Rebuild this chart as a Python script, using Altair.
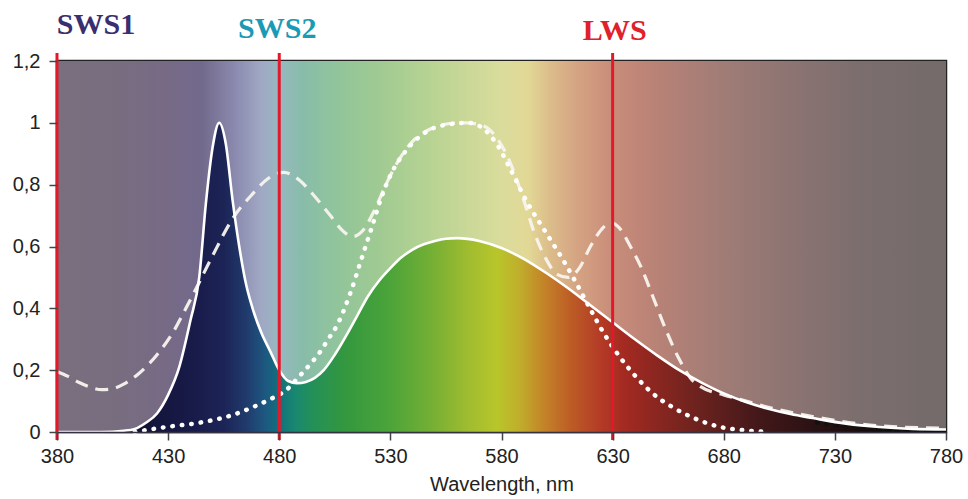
import altair as alt
import pandas as pd

# ---------------- data ----------------
# solid white curve (filled with spectrum colours)
solid_wl = [380, 400, 410, 415, 420, 425, 430, 435, 440, 444, 447, 450, 453, 456, 459, 462, 465,
            468, 472, 476, 480, 484, 488, 492, 496, 500, 505, 510, 515, 520, 525, 530, 535, 540,
            545, 550, 555, 560, 570, 580, 590, 600, 610, 620, 630, 640, 650, 660, 670, 680, 690,
            700, 710, 720, 735, 750, 765, 780]
solid_val = [0.0, 0.0, 0.004, 0.01, 0.03, 0.06, 0.12, 0.21, 0.36, 0.5, 0.74, 0.92, 1.0, 0.93, 0.75,
             0.6, 0.48, 0.4, 0.32, 0.26, 0.2, 0.165, 0.158, 0.162, 0.175, 0.2, 0.25, 0.31, 0.375,
             0.44, 0.49, 0.53, 0.565, 0.59, 0.607, 0.618, 0.625, 0.627, 0.618, 0.595, 0.56, 0.515,
             0.465, 0.41, 0.355, 0.3, 0.248, 0.2, 0.16, 0.125, 0.097, 0.075, 0.058, 0.045, 0.027,
             0.016, 0.01, 0.008]

# dashed white curve
dash_wl = [380, 385, 390, 395, 400, 405, 410, 417, 425, 432, 438, 443, 450, 459, 468, 475, 482,
           489, 495, 503, 508, 513, 518, 523, 528, 533, 540, 548, 556, 564, 572, 578, 584, 590,
           595, 600, 605, 610, 615, 620, 625, 629, 633, 638, 643, 648, 654, 660, 665, 670,
           680, 690, 700, 720, 750, 780]
dash_val = [0.195, 0.18, 0.16, 0.145, 0.137, 0.14, 0.155, 0.19, 0.25, 0.32, 0.4, 0.47, 0.57, 0.69,
            0.77, 0.82, 0.84, 0.815, 0.77, 0.7, 0.655, 0.632, 0.655, 0.72, 0.8, 0.87, 0.94, 0.98,
            0.997, 1.0, 0.99, 0.95, 0.87, 0.75, 0.64, 0.56, 0.51, 0.5, 0.53, 0.6, 0.655, 0.678,
            0.66, 0.6, 0.53, 0.44, 0.33, 0.235, 0.175, 0.145, 0.12, 0.1, 0.08, 0.05, 0.02, 0.012]

# dotted white curve
dot_wl = [415, 419, 430, 444, 459, 468, 477, 483, 489, 494, 498, 502, 506, 512, 517, 522, 526,
          530, 537, 546, 556, 565, 572, 578, 584, 591, 600, 607, 613, 619, 626, 633,
          641, 648, 657, 665, 678, 690, 700]
dot_val = [0.0, 0.005, 0.017, 0.03, 0.055, 0.08, 0.11, 0.135, 0.18, 0.22, 0.255, 0.3, 0.345, 0.45,
           0.56, 0.67, 0.76, 0.83, 0.91, 0.97, 0.995, 1.0, 0.98, 0.93, 0.85, 0.75, 0.645,
           0.565, 0.49, 0.41, 0.32, 0.245, 0.175, 0.125, 0.08, 0.05, 0.017, 0.005, 0.0]

# black dotted tail near the baseline
blk_wl = [722, 732, 742, 752, 762, 772]
blk_val = [0.03, 0.021, 0.014, 0.009, 0.006, 0.003]

# receptor markers
rule_wl = [380, 480, 630]
label_text = ["SWS1", "SWS2", "LWS"]
label_colors = ["#3a2f6e", "#1a9ab5", "#e0202a"]

x_ticks = [380, 430, 480, 530, 580, 630, 680, 730, 780]
y_ticks = [0, 0.2, 0.4, 0.6, 0.8, 1.0, 1.2]

# colour stops: muted background spectrum and saturated spectrum under the curve
bg_wl = [380, 410, 430, 445, 460, 472, 480, 490, 505, 525, 545, 565, 580, 592, 602, 615, 630,
         650, 680, 710, 740, 780]
bg_col = ["#7a6f7e", "#786d80", "#766a86", "#72698c", "#8a8aae", "#a0a8c4", "#98b8c0", "#88bcaa",
          "#90c49c", "#a0ca92", "#b4d292", "#cad898", "#dadc9c", "#e2d896", "#dcbc8a", "#d4a282",
          "#c98c7a", "#b88276", "#a07c76", "#8c7472", "#7c6e6e", "#746a6a"]
spec_wl = [380, 420, 440, 455, 465, 473, 480, 487, 495, 510, 530, 550, 565, 578, 588, 600, 612,
           625, 635, 650, 670, 695, 720, 750, 780]
spec_col = ["#101028", "#14143a", "#181a48", "#1c2456", "#203a6c", "#1e5580", "#12707e",
            "#188870", "#249058", "#34983e", "#4ca43a", "#78b034", "#a0bc30", "#b8c62a",
            "#c0ae2c", "#c48028", "#bc5a26", "#b43a26", "#a42a22", "#8a2620", "#6a221e",
            "#44181a", "#2a1214", "#150a0a", "#050505"]

X0, X1 = 380, 780
YMAX = 1.2
W, H = 889, 371


def grad(wls, cols):
    return alt.Gradient(
        gradient="linear", x1=0, x2=1, y1=0, y2=0,
        stops=[alt.GradientStop(offset=(w - X0) / (X1 - X0), color=c) for w, c in zip(wls, cols)],
    )


xs = alt.Scale(domain=[X0, X1], nice=False, zero=False)
ys = alt.Scale(domain=[0, YMAX], nice=False)

font = "Liberation Sans"

xaxis = alt.Axis(values=x_ticks, format="d", title="Wavelength, nm", labelFont=font,
                 titleFont=font, labelFontSize=20, titleFontSize=20, titleFontWeight="normal",
                 labelColor="#222", titleColor="#222", tickSize=8, tickColor="#444",
                 tickWidth=1.5, domainColor="#334", domainWidth=1.5, labelPadding=6,
                 titlePadding=8, grid=False, zindex=1, labelFlush=False)
yaxis = alt.Axis(values=y_ticks, format=".1~f", title=None, labelFont=font, labelFontSize=20,
                 labelColor="#222", tickSize=8, tickColor="#444", tickWidth=1.5, domain=False,
                 labelPadding=9, grid=False, labelExpr="replace(datum.label, '.', ',')", zindex=1)

XT = "Wavelength, nm"

bg_df = pd.DataFrame({"wl": [X0], "wl2": [X1], "v": [0.0], "v2": [YMAX]})
background = alt.Chart(bg_df).mark_rect(color=grad(bg_wl, bg_col)).encode(
    x=alt.X("wl:Q", scale=xs, axis=xaxis, title=XT), x2="wl2:Q",
    y=alt.Y("v:Q", scale=ys, axis=yaxis, title=None), y2="v2:Q",
)

solid_df = pd.DataFrame({"wl": solid_wl, "v": solid_val})
dash_df = pd.DataFrame({"wl": dash_wl, "v": dash_val})
dot_df = pd.DataFrame({"wl": dot_wl, "v": dot_val})
blk_df = pd.DataFrame({"wl": blk_wl, "v": blk_val})

enc = dict(x=alt.X("wl:Q", scale=xs, axis=xaxis, title=XT),
           y=alt.Y("v:Q", scale=ys, axis=yaxis, title=None))

area = alt.Chart(solid_df).mark_area(color=grad(spec_wl, spec_col), interpolate="monotone").encode(**enc)
dashed = alt.Chart(dash_df).mark_line(color="#f8f4ee", strokeWidth=3.2, strokeDash=[13, 8],
                                      interpolate="monotone", opacity=0.95).encode(**enc)
dotted = alt.Chart(dot_df).mark_line(color="#ffffff", strokeWidth=4.5, strokeDash=[0.5, 9],
                                     strokeCap="round", interpolate="monotone").encode(**enc)
black_dots = alt.Chart(blk_df).mark_line(color="#111111", strokeWidth=4.5, strokeDash=[0.5, 9],
                                         strokeCap="round", interpolate="monotone").encode(**enc)
solid = alt.Chart(solid_df).mark_line(color="#ffffff", strokeWidth=2.6,
                                      interpolate="monotone").encode(**enc)

rule_df = pd.DataFrame({"wl": rule_wl})
rules = alt.Chart(rule_df).mark_rule(color="#e3182a", strokeWidth=3).encode(
    x=alt.X("wl:Q", scale=xs, axis=xaxis, title=XT), y=alt.value(-8), y2=alt.value(H + 8)
)

label_dx = [39, -2, 2]
label_dy = [-27, -23, -21]
texts = []
for t, c, w, dx, dy in zip(label_text, label_colors, rule_wl, label_dx, label_dy):
    tdf = pd.DataFrame({"wl": [w], "t": [t]})
    texts.append(
        alt.Chart(tdf).mark_text(font="Liberation Serif", fontWeight="bold", fontSize=30,
                                 color=c, align="center", baseline="alphabetic", dx=dx).encode(
            x=alt.X("wl:Q", scale=xs, axis=xaxis, title=XT), y=alt.value(dy), text="t:N")
    )

chart = alt.layer(background, area, dashed, dotted, black_dots, solid, rules, *texts).properties(
    width=W, height=H,
    autosize=alt.AutoSizeParams(type="none"),
    padding={"left": 57, "top": 61, "right": 22, "bottom": 67},
).configure_view(stroke="#222", strokeWidth=2.5)

chart.save("out.html", embed_options={"renderer": "svg", "actions": False})
